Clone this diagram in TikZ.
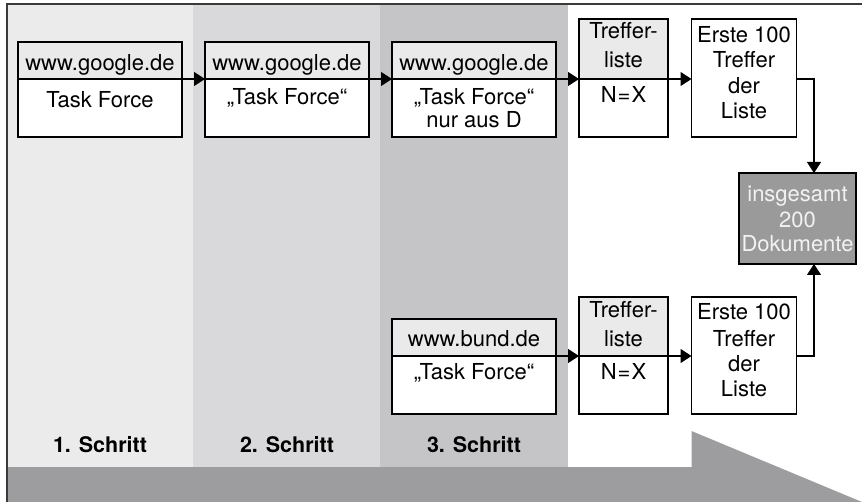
\documentclass[tikz,border=0pt]{standalone}
\usepackage{fontspec}
\setmainfont{TeX Gyre Heros}
\usetikzlibrary{arrows.meta}
\definecolor{colA}{HTML}{EBEBEB}
\definecolor{colB}{HTML}{D9D9DB}
\definecolor{colC}{HTML}{C5C5C7}
\definecolor{hdrfill}{HTML}{EAEAEA}
\definecolor{barfill}{HTML}{9D9D9F}
\definecolor{sumfill}{HTML}{9A9A9A}
\definecolor{sumtext}{HTML}{F2F2F2}
\definecolor{frameline}{HTML}{3A3A3A}
\begin{document}
\begin{tikzpicture}[x=1pt,y=-1pt,
  part/.style={draw=black, line width=1.2pt, inner sep=0pt, outer sep=0pt, anchor=north west},
  hdrbox/.style={part, fill=hdrfill},
  bodybox/.style={part, fill=white},
  sumbox/.style={part, fill=sumfill},
  txt/.style={anchor=base, inner sep=0pt, font=\fontsize{22}{26}\selectfont},
  steplabel/.style={txt, font=\fontsize{21.5}{26}\selectfont\bfseries},
  conn/.style={draw=black, line width=1.1pt, -{Triangle[length=11pt,width=14pt]}}
]
\useasboundingbox (0,0) rectangle (862,502);
% column bands
\fill[colA] (7,4) rectangle (193,467);
\fill[colB] (193,4) rectangle (380,467);
\fill[colC] (380,4) rectangle (568,467);
% bottom arrow bar
\fill[barfill] (7,467) -- (691.5,467) -- (691.5,431) -- (862,502) -- (7,502) -- cycle;
% frame
\draw[frameline, line width=1.5pt] (7,502) -- (7,4) -- (862,4);

% top row boxes
\node[hdrbox, minimum width=164, minimum height=37] (g1h) at (18,42) {};
\node[bodybox, minimum width=164, minimum height=58] (g1b) at (18,79) {};
\node[hdrbox, minimum width=164, minimum height=37] (g2h) at (205,42) {};
\node[bodybox, minimum width=164, minimum height=58] (g2b) at (205,79) {};
\node[hdrbox, minimum width=164, minimum height=37] (g3h) at (392,42) {};
\node[bodybox, minimum width=164, minimum height=58] (g3b) at (392,79) {};
\node[hdrbox, minimum width=89, minimum height=60] (t1h) at (579,19) {};
\node[bodybox, minimum width=89, minimum height=58] (t1b) at (579,79) {};
\node[bodybox, minimum width=105, minimum height=118] (e1) at (691.5,19) {};
\node[sumbox, minimum width=117, minimum height=91] (sum) at (739,173) {};

% bottom row boxes
\node[hdrbox, minimum width=164, minimum height=37] (b3h) at (392,319) {};
\node[bodybox, minimum width=164, minimum height=58] (b3b) at (392,356) {};
\node[hdrbox, minimum width=89, minimum height=59] (t2h) at (579,297) {};
\node[bodybox, minimum width=89, minimum height=58] (t2b) at (579,356) {};
\node[bodybox, minimum width=105, minimum height=117] (e2) at (691.5,297) {};

% texts top row
\node[txt] (g1ht) at (100,71) {www.google.de};
\node[txt] (g1bt) at (100,108) {Task Force};
\node[txt] (g2ht) at (287,71) {www.google.de};
\node[txt] (g2bt) at (287,105) {„Task Force“};
\node[txt] (g3ht) at (474,71) {www.google.de};
\node[txt] (g3bt) at (474,105) {„Task Force“};
\node[txt] (g3bt2) at (474,128) {nur aus D};
\node[txt] (t1a) at (623.5,39) {Treffer-};
\node[txt] (t1c) at (623.5,68) {liste};
\node[txt] (t1d) at (623.5,103) {N\kern1pt=\kern1pt X};
\node[txt] (e1a) at (744,43) {Erste 100};
\node[txt] (e1b) at (744,68) {Treffer};
\node[txt] (e1c) at (744,94) {der};
\node[txt] (e1d) at (744,119) {Liste};
\node[txt, text=sumtext] (s1) at (797.5,202) {insgesamt};
\node[txt, text=sumtext] (s2) at (797.5,228) {200};
\node[txt, text=sumtext] (s3) at (797.5,252) {Dokumente};

% texts bottom row
\node[txt] (b3ht) at (474,347) {www.bund.de};
\node[txt] (b3bt) at (474,380) {„Task Force“};
\node[txt] (t2a) at (623.5,318) {Treffer-};
\node[txt] (t2c) at (623.5,347) {liste};
\node[txt] (t2d) at (623.5,380) {N\kern1pt=\kern1pt X};
\node[txt] (e2a) at (744,320) {Erste 100};
\node[txt] (e2b) at (744,347) {Treffer};
\node[txt] (e2c) at (744,372) {der};
\node[txt] (e2d) at (744,397) {Liste};

% step labels
\node[steplabel] (st1) at (100,452) {1. Schritt};
\node[steplabel] (st2) at (287,452) {2. Schritt};
\node[steplabel] (st3) at (474,452) {3. Schritt};

% connectors
\draw[conn] (g1h.south east) -- (g2h.south west);
\draw[conn] (g2h.south east) -- (g3h.south west);
\draw[conn] (g3h.south east) -- (t1h.south west);
\draw[conn] (t1h.south east) -- (e1.west |- t1h.south);
\coordinate (c1) at (814,79);
\draw[conn] (e1.east |- c1) -- (c1) -- (c1 |- sum.north);
\draw[conn] (b3h.south east) -- (t2h.south west);
\draw[conn] (t2h.south east) -- (e2.west |- t2h.south);
\coordinate (c2) at (814,356);
\draw[conn] (e2.east |- c2) -- (c2) -- (c2 |- sum.south);
\end{tikzpicture}
\end{document}
